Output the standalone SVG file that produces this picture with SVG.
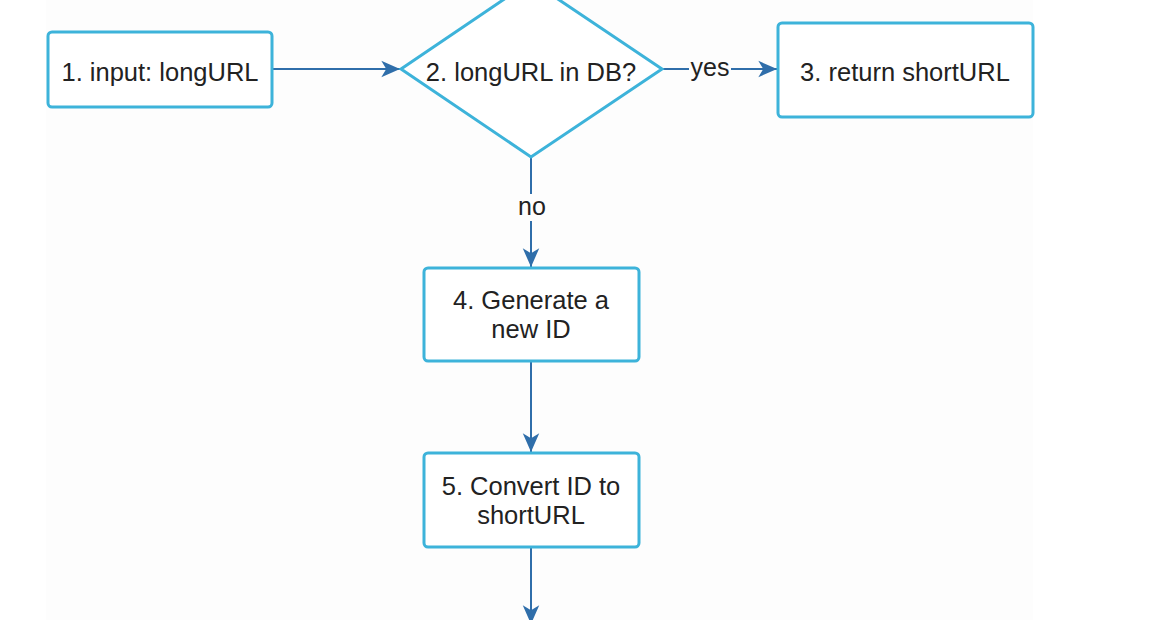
<svg xmlns="http://www.w3.org/2000/svg" width="1150" height="620" viewBox="0 0 1150 620">
  <style>
    .node { fill: #ffffff; stroke: #3db3da; stroke-width: 3; }
    .txt { font-family: "Liberation Sans", Arial, sans-serif; font-size: 25.5px; fill: #222222; text-anchor: middle; }
    .edge { fill: none; stroke: #2f6eaa; stroke-width: 2; }
    .lbl { font-family: "Liberation Sans", Arial, sans-serif; font-size: 25px; fill: #222222; text-anchor: middle; }
    .lblbg { fill: #fdfdfd; }
  </style>
  <defs>
    <marker id="arr" markerUnits="userSpaceOnUse" markerWidth="22" markerHeight="22" viewBox="-18 -9 20 18" refX="0" refY="0" orient="auto">
      <path d="M0,0 L-17,-7.5 L-12.5,0 L-17,7.5 Z" fill="#2f6eaa"/>
    </marker>
  </defs>
  <rect x="0" y="0" width="1150" height="620" fill="#ffffff"/>
  <rect x="46" y="0" width="987" height="620" fill="#fdfdfd"/>

  <g id="connectors">
    <path class="edge" d="M272,69 L400,69" marker-end="url(#arr)"/>
    <path class="edge" d="M663,69 L777,69" marker-end="url(#arr)"/>
    <path class="edge" d="M531,157 L531,267" marker-end="url(#arr)"/>
    <path class="edge" d="M531,362 L531,452" marker-end="url(#arr)"/>
    <path class="edge" d="M531,548 L531,624" marker-end="url(#arr)"/>
    <g id="label-yes">
      <rect class="lblbg" x="689" y="55" width="42" height="26"/>
      <text class="lbl" x="710" y="76">yes</text>
    </g>
    <g id="label-no">
      <rect class="lblbg" x="516" y="194" width="31" height="27"/>
      <text class="lbl" x="532" y="215">no</text>
    </g>
  </g>

  <g id="node1">
    <rect class="node" x="48" y="32" width="224" height="75" rx="4"/>
    <text class="txt" x="160" y="81">1. input: longURL</text>
  </g>
  <g id="node2">
    <polygon class="node" points="531,-19 662,69 531,157 401,69"/>
    <text class="txt" x="531" y="81">2. longURL in DB?</text>
  </g>
  <g id="node3">
    <rect class="node" x="778" y="23" width="255" height="94" rx="4"/>
    <text class="txt" x="905" y="81">3. return shortURL</text>
  </g>
  <g id="node4">
    <rect class="node" x="424" y="268" width="215" height="93" rx="4"/>
    <text class="txt" x="531" y="309">4. Generate a</text>
    <text class="txt" x="531" y="338">new ID</text>
  </g>
  <g id="node5">
    <rect class="node" x="424" y="453" width="215" height="94" rx="4"/>
    <text class="txt" x="531" y="495">5. Convert ID to</text>
    <text class="txt" x="531" y="524">shortURL</text>
  </g>
</svg>
